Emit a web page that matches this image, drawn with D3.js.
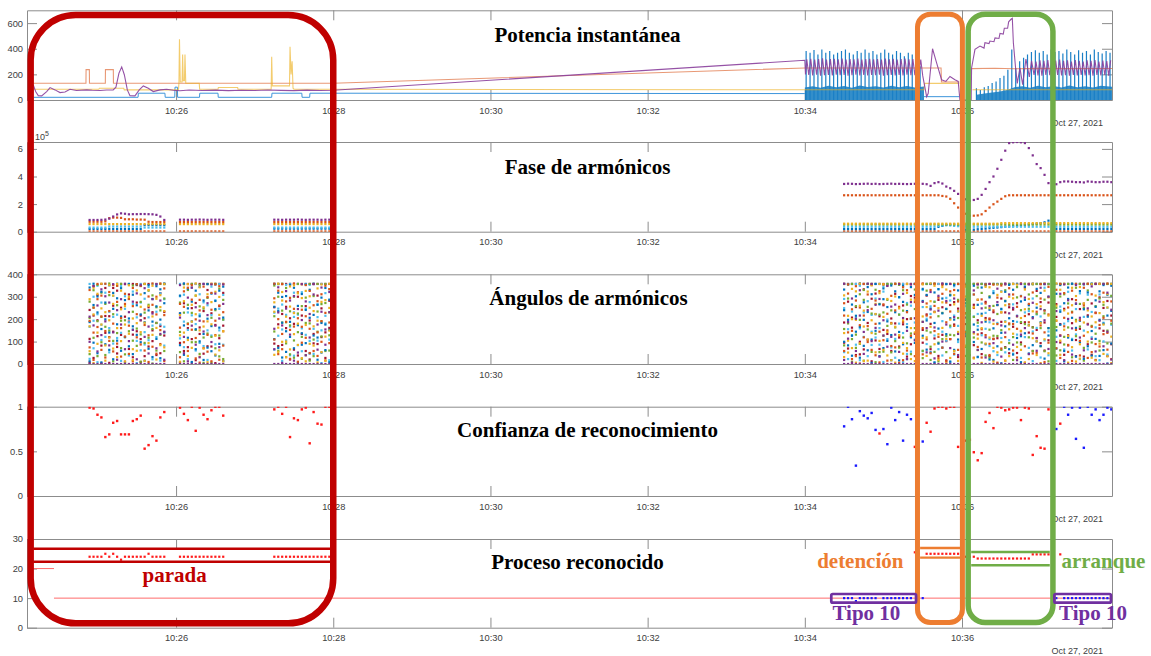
<!DOCTYPE html>
<html><head><meta charset="utf-8">
<script src="https://cdn.jsdelivr.net/npm/d3@7/dist/d3.min.js"></script>
<style>body{margin:0;background:#fff}svg{display:block}</style>
</head><body>
<svg id="c" width="1151" height="656"></svg>
<script>
// ---------------- DATA ----------------
const xTickLabels = ['10:26','10:28','10:30','10:32','10:34','10:36'];
const dateLabel = 'Oct 27, 2021';
const titles = ['Potencia instantánea','Fase de armónicos','Ángulos de armónicos','Confianza de reconocimiento','Proceso reconocido'];
const yTicksPot = [0,200,400,600];
const yTicksFase = [0,2,4,6];
const yTicksAng = [0,100,200,300,400];
const yTicksConf = [0,0.5,1];
const yTicksProc = [0,10,20,30];

// time in seconds after 10:24:00
const potBlue = [[11,21],[91,21],[91.2,53],[111.5,53],[111.7,21],[119,21],[119.2,100],[121,100],[121.2,21],[137.9,21],[138.1,53],[152,53],[152.2,21],[193,21],[193.2,53],[216,53],[216.2,21],[222,21],[222.2,53],[240,53],[600,50],[600,null],[691,26],[718,26]];
const potBlueBand = [[600,98],[606,108],[612,95],[618,112],[624,100],[630,110],[636,96],[642,114],[648,102],[654,108],[660,97],[666,112],[672,100],[678,110],[684,98],[691,105],[691,null],[731,40],[737,50],[743,58],[749,66],[755,80],[760,100],[766,108],[772,96],[778,112],[784,100],[790,110],[796,98],[802,114],[808,100],[814,108],[820,97],[826,112],[834.5,104]];
const potBlueSpikes = [[601,382],[604,368],[607,390],[610,355],[613,395],[616,368],[619,382],[622,355],[625,368],[628,382],[631,395],[634,368],[637,355],[640,382],[643,368],[646,395],[649,368],[652,382],[655,355],[658,368],[661,395],[664,368],[667,355],[670,382],[673,368],[676,342],[679,368],[682,355],[685,342],[688,263],
[731,92],[734,79],[737,100],[740,110],[743,132],[746,145],[749,171],[752,189],[755,237],[758,395],[761,250],[764,303],[767,329],[770,355],[773,374],[776,389],[779,368],[782,382],[785,355],[788,395],[791,374],[794,382],[797,363],[800,395],[803,374],[806,355],[809,389],[812,368],[815,382],[818,355],[821,395],[824,374],[827,363],[830,382],[833,368]];
const potOrange = [[11,131],[51.2,131],[51.3,237],[53.8,237],[53.9,131],[66,131],[66.1,237],[72.1,237],[72.2,131],[240,131],[600,250],[704,250],[704.3,140],[718,140],[718,null],[727.5,245],[745,248],[760,244],[780,247],[800,245],[834.5,246]];
const potYellow = [[11,84],[61,84],[61.5,92],[80,92],[80.5,79],[121.8,79],[122.2,131],[122.6,474],[123.2,140],[124.6,140],[125,355],[125.5,150],[126.4,150],[126.8,355],[127.4,131],[137.7,131],[138,84],[152,84],[152.3,97],[167,97],[167.3,84],[192.6,84],[193,337],[193.5,110],[206.6,110],[207,416],[207.8,200],[208.6,303],[209.3,92],[210,84],[240,84],[600,80],[691,80],[691.5,130],[718,130],[718,null],[728,80],[834.5,80]];
const potPurple = [[11,118],[12.8,66],[14.8,34],[17.4,32],[21.2,66],[23.8,97],[27.6,79],[31.4,58],[35.2,63],[39,84],[44,74],[51.8,79],[56,76],[61.9,74],[67,78],[72,79],[74.1,100],[76.4,210],[78.5,258],[80.5,197],[82.8,79],[84.8,34],[88.6,32],[91.9,79],[95,110],[98.8,92],[102.6,66],[107.7,79],[112.8,84],[118,76],[123,72],[130,78],[140,74],[150,77],[160,73],[170,76],[180,74],[190,78],[200,75],[210,73],[220,77],[230,74],[240,76],
[600,310],[600.5,200],[601.5,318],[603,195],[604.5,322],[606,192],[607.5,316],[609,198],[610.5,320],[612,190],[613.5,325],[615,194],[616.5,315],[618,196],[619.5,319],[621,191],[622.5,321],[624,197],[625.5,317],[627,193],[628.5,323],[630,195],[631.5,316],[633,190],[634.5,320],[636,194],[637.5,318],[639,198],[640.5,324],[642,192],[643.5,315],[645,196],[646.5,319],[648,191],[649.5,322],[651,195],[652.5,317],[654,193],[655.5,320],[657,197],[658.5,316],[660,190],[661.5,323],[663,194],[664.5,318],[666,196],[667.5,321],[669,192],[670.5,315],[672,195],[673.5,319],[675,191],[676.5,324],[678,197],[679.5,317],[681,193],[682.5,320],[684,194],[685.5,318],[687,196],[688.5,316],[690,190],
[693,26],[694.2,52],[697.5,400],[700.6,290],[704.4,158],[707.7,145],[710.8,184],[714.6,158],[717.1,145],[718.4,0],[727,0],[727.3,250],[729.9,395],[733.7,421],[736.8,405],[737.5,447],[740.6,440],[741.3,460],[744.4,455],[745.2,485],[748.2,480],[749,520],[751.5,515],[752.3,560],[754.8,560],[755.6,610],[757.4,630],[758.4,637],[759.2,447],[760.9,250],[762.2,130],[764.2,250],[766.3,120],[768.8,320],[771.4,180],[773.1,305],
[775,195],[776.5,300],[778,192],[779.5,310],[781,190],[782.5,305],[784,196],[785.5,312],[787,193],[788.5,300],[790,190],[791.5,308],[793,195],[794.5,315],[796,191],[797.5,305],[799,194],[800.5,310],[802,190],[803.5,300],[805,196],[806.5,312],[808,192],[809.5,306],[811,195],[812.5,300],[814,191],[815.5,310],[817,194],[818.5,305],[820,190],[821.5,312],[823,196],[824.5,300],[826,192],[827.5,308],[829,195],[830.5,304],[832,190],[833.5,310]];

// harmonic analysis sample times (s after 10:24:00)
const harmTimes = [54,57,60,63,66,69,72,75,78,81,84,87,90,93,96,99,102,105,108,111,
123,126,129,132,135,138,141,144,147,150,153,156,
195,198,201,204,207,210,213,216,219,222,225,228,231,234,237,
630,633,636,639,642,645,648,651,654,657,660,663,666,669,672,675,678,681,684,687,690,693,696,699,702,705,708,711,714,717,720,723,726,729,732,735,738,741,744,747,750,753,756,759,762,765,768,771,774,777,780,783,786,789,792,795,798,801,804,807,810,813,816,819,822,825,828,831,834];

// Fase de armónicos (x 10^5)
const fasePurple = [0.85,0.85,0.85,0.86,0.88,0.95,1.1,1.25,1.33,1.3,1.26,1.27,1.27,1.28,1.28,1.27,1.26,1.22,1.1,0.85,
0.87,0.87,0.86,0.87,0.87,0.88,0.87,0.86,0.87,0.87,0.87,0.86,
0.87,0.87,0.86,0.87,0.87,0.87,0.88,0.87,0.86,0.87,0.87,0.87,0.86,0.87,0.87,
3.46,3.48,3.47,3.45,3.46,3.47,3.48,3.46,3.47,3.45,3.46,3.47,3.48,3.46,3.47,3.46,3.45,3.46,3.47,3.46,3.47,3.44,
3.32,3.52,3.59,3.49,3.27,3.15,2.96,2.74,2.55,2.35,2.23,2.30,2.38,2.67,3.10,3.59,4.0,4.56,5.21,5.87,6.42,6.48,6.5,6.48,6.42,6.06,5.53,4.90,4.61,4.12,3.52,3.45,3.44,3.59,3.64,3.64,3.62,3.59,3.59,3.57,3.64,3.62,3.59,3.59,3.62,3.62,3.59];
const faseOrange = [0.72,0.72,0.72,0.72,0.75,0.98,1.02,1.02,1.0,0.9,0.9,0.9,0.88,0.88,0.87,0.72,0.7,0.7,0.7,0.7,
0.7,0.7,0.7,0.7,0.7,0.7,0.7,0.7,0.7,0.7,0.7,0.7,
0.7,0.7,0.7,0.7,0.7,0.7,0.7,0.7,0.7,0.7,0.7,0.7,0.7,0.7,0.7,
2.64,2.64,2.64,2.64,2.64,2.64,2.64,2.64,2.64,2.64,2.64,2.64,2.64,2.64,2.64,2.64,2.64,2.64,2.64,2.64,2.64,2.64,2.64,2.64,2.64,
2.59,2.55,2.38,2.06,1.75,1.45,1.3,1.16,1.16,1.18,1.26,1.5,1.75,1.99,2.18,2.38,2.57,
2.64,2.64,2.64,2.64,2.64,2.64,2.64,2.64,2.64,2.64,2.64,2.64,2.64,2.64,2.64,2.64,2.64,2.64,2.64,2.64,2.64,2.64,2.64,2.64,2.64,2.64,2.64];
const faseYellow = [0.55,0.55,0.55,0.55,0.55,0.55,0.55,0.55,0.55,0.55,0.55,0.55,0.55,0.55,0.55,0.55,0.55,0.55,0.55,0.55,
0.55,0.55,0.55,0.55,0.55,0.55,0.55,0.55,0.55,0.55,0.55,0.55,
0.55,0.55,0.55,0.55,0.55,0.55,0.55,0.55,0.55,0.55,0.55,0.55,0.55,0.55,0.55,
0.58,0.58,0.58,0.58,0.58,0.58,0.58,0.58,0.58,0.58,0.58,0.58,0.58,0.58,0.58,0.58,0.58,0.58,0.58,0.58,0.58,0.58,0.58,0.58,0.58,0.58,0.58,0.58,0.58,0.58,0.58,0.58,0.58,0.58,0.58,0.58,0.58,0.58,0.58,0.58,
0.62,0.62,0.62,0.62,0.62,0.62,0.62,0.62,0.62,0.62,0.62,0.62,0.62,0.62,0.62,0.62,0.62,0.62,0.62,0.62,0.62,0.62,0.62,0.62,0.62,0.62,0.62,0.62,0.62];
const faseGreen = [null,null,null,null,null,null,null,null,null,null,null,null,null,null,null,null,null,null,null,null,
null,null,null,null,null,null,null,null,null,null,null,null,
null,null,null,null,null,null,null,null,null,null,null,null,null,null,null,
0.52,0.52,0.52,0.52,0.52,0.52,0.52,0.52,0.52,0.52,0.52,0.52,0.52,0.52,0.52,0.52,0.52,0.52,0.52,0.52,0.52,0.52,0.52,0.52,0.52,0.52,0.52,0.52,0.52,0.52,0.52,0.52,0.52,0.52,0.52,
0.52,0.52,0.52,0.52,0.52,0.52,0.52,0.52,0.52,0.52,0.52,0.52,0.52,0.52,0.52,0.52,0.52,0.52,0.52,0.52,0.52,0.52,0.52,0.52,0.52,0.52,0.52,0.52,0.52,0.52,0.52,0.52,0.52,0.52];
const faseCyan = [0.3,0.3,0.3,0.3,0.3,0.38,0.38,0.38,0.38,0.38,0.38,0.38,0.38,0.38,0.3,0.3,0.3,0.3,0.3,0.3,
null,null,null,null,null,null,null,null,null,null,null,null,
0.3,0.3,0.3,0.3,0.3,0.3,0.3,0.3,0.3,0.3,0.3,0.3,0.3,0.3,0.3,
0.36,0.36,0.36,0.36,0.36,0.36,0.36,0.36,0.36,0.36,0.36,0.36,0.36,0.36,0.36,0.36,0.36,0.36,0.36,0.36,0.36,0.36,0.36,0.36,
0.42,0.45,0.48,0.45,0.42,0.4,
0.36,0.36,0.36,0.36,0.36,0.36,0.36,0.36,0.36,0.36,0.36,0.36,0.36,0.36,0.36,0.36,0.36,0.36,0.36,0.36,0.36,0.36,0.36,0.36,0.36,0.36,0.36,0.36,0.36,0.36,0.36,0.36,0.36,0.36,0.36,0.36,0.36,0.36,0.36];
const faseBlue = [0.2,0.2,0.2,0.2,0.2,0.2,0.2,0.2,0.2,0.2,0.2,0.2,0.2,0.2,0.48,0.48,0.48,0.48,0.48,0.48,
null,null,null,null,null,null,null,null,null,null,null,null,
0.22,0.22,0.22,0.22,0.22,0.22,0.22,0.22,0.22,0.22,0.22,0.22,0.22,0.22,0.22,
0.19,0.19,0.19,0.19,0.19,0.19,0.19,0.19,0.19,0.19,0.19,0.19,0.19,0.19,0.19,0.19,0.19,0.19,0.19,0.19,0.19,0.19,0.19,0.19,
0.35,0.42,0.48,0.5,0.52,0.45,0.2,0.15,
0.12,0.15,0.18,0.2,0.22,0.25,0.28,0.3,0.33,0.36,0.38,0.4,0.43,0.46,0.5,0.52,0.55,0.58,0.62,0.68,0.8,
0.2,0.2,0.2,0.2,0.2,0.2,0.2,0.2,0.2,0.2,0.2,0.2,0.2,0.2,0.2,0.2];
const faseBase = [0.02,0.02,0.02,0.02,0.02,0.02,0.02,0.02,0.02,0.02,0.02,0.02,0.02,0.02,0.02,0.02,0.02,0.02,0.02,0.02,
0.02,0.02,0.02,0.02,0.02,0.02,0.02,0.02,0.02,0.02,0.02,0.02,
0.02,0.02,0.02,0.02,0.02,0.02,0.02,0.02,0.02,0.02,0.02,0.02,0.02,0.02,0.02,
0.02,0.02,0.02,0.02,0.02,0.02,0.02,0.02,0.02,0.02,0.02,0.02,0.02,0.02,0.02,0.02,0.02,0.02,0.02,0.02,0.02,0.02,0.02,0.02,0.02,0.02,0.02,0.02,0.02,0.02,0.02,0.02,0.02,0.02,0.02,
0.02,0.02,0.02,0.02,0.02,0.02,0.02,0.02,0.02,0.02,0.02,0.02,0.02,0.02,0.02,0.02,0.02,0.02,0.02,0.02,0.02,0.02,0.02,0.02,0.02,0.02,0.02,0.02,0.02,0.02,0.02,0.02,0.02,0.02];

// Ángulos de armónicos (deg), 3 values per sample time
const angBlue = [12,187,341,95,263,358,230,48,301,156,322,7,274,88,199,351,140,63,21,246,317,177,293,104,338,59,212,121,285,3,
203,356,79,44,168,309,262,130,355,97,221,348,316,15,186,68,239,352,189,290,31,347,112,257,26,198,333,141,271,359,
305,84,226,172,359,41,248,117,336,9,190,278,327,66,155,213,344,101,134,283,18,356,202,73,57,169,314,281,38,245,
162,327,90,345,13,207,111,255,357,236,72,318,29,184,299,303,146,54,188,353,121,70,229,340,259,6,173,137,312,86,
354,93,241,47,206,331,219,358,127,118,264,19,296,51,183,176,339,62,8,152,287,332,240,99,83,197,355,265,126,37,
144,302,215,359,28,166,197,275,81,61,343,232,311,109,5,222,357,148,35,181,266,289,71,337,103,254,190,350,17,129,
231,324,56,16,143,298,277,88,349,164,236,22,343,119,201,94,308,357,252,40,170,126,281,335,308,194,64,52,357,247,
183,7,319,334,158,91,73,292,226,246,356,133,11,204,306,198,63,352,328,235,109,102,359,14,271,135,288,40,223,346,
349,98,176,153,264,32,224,341,67,88,189,354,297,20,242,18,316,159,263,79,357,139,246,3,322,168,280,66,353,204,
191,42,331,357,215,116,124,279,8,286,137,345,47,262,173,209,358,84,335,101,251,80,186,317,240,24,356,160,300,127,
4,227,339,313,150,69,175,352,233,58,271,12,341,118,290,107,206,358,268,33,161,193,325,97,23,244,355,319,79,211,
147,358,37,284,112,255,36,197,324,352,62,180,216,309,2,91,237,349];
const angOrange = [330,74,192,18,251,140,289,165,357,63,212,305,147,358,29,236,103,321,352,180,56,91,277,349,205,33,160,313,122,268,
45,290,171,258,12,339,119,356,222,348,87,195,174,243,60,301,128,9,77,359,264,221,46,300,359,151,89,13,218,337,
268,162,30,97,324,255,340,58,178,153,287,351,25,199,116,286,6,239,190,345,71,55,130,298,317,242,12,129,355,193,
261,19,347,82,231,146,358,109,293,200,327,44,134,66,356,31,279,188,295,152,23,167,359,246,10,204,320,242,95,166,
117,352,213,326,49,157,58,262,357,280,141,36,191,311,99,349,16,228,93,185,334,216,58,271,355,314,141,148,244,22,
283,35,347,2,173,252,357,216,119,169,98,310,246,352,63,39,283,179,325,144,7,106,266,354,224,15,150,304,183,80,
74,239,358,255,125,5,17,342,187,329,60,231,126,202,356,357,276,35,181,20,294,43,359,160,270,110,216,208,330,48,
358,147,259,121,296,26,313,73,353,12,186,274,234,324,111,170,45,330,63,279,357,290,162,18,142,354,227,337,89,197,
28,250,310,356,132,76,155,29,288,270,355,129,90,203,40,239,113,354,6,296,178,350,69,230,120,358,15,266,181,338,
178,310,60,29,255,157,302,146,359,214,5,79,357,186,268,136,47,319,50,233,115,292,356,172,9,141,238,344,221,95,
244,86,355,70,331,193,357,27,128,206,168,316,85,252,54,327,14,230,152,357,285,38,196,103,261,126,340,179,358,27,
311,53,166,89,227,358,358,174,78,133,318,206,64,359,139,279,22,193];
const angYellow = [57,289,168,221,4,340,140,313,90,358,176,248,83,231,15,195,352,118,268,69,305,31,160,357,327,244,102,176,11,258,
299,135,351,66,203,17,328,59,182,142,310,255,14,184,357,259,93,330,130,349,212,291,20,161,84,254,307,236,357,74,
10,218,128,341,140,280,107,356,36,264,72,189,359,305,222,150,33,342,69,253,167,311,190,8,177,358,276,42,126,322,
219,299,61,146,357,12,275,41,233,54,162,358,321,283,99,100,211,30,346,65,256,227,133,351,85,315,180,355,26,294,
12,174,326,251,302,90,168,82,236,337,7,193,53,355,277,285,122,14,358,250,149,138,31,306,215,104,51,71,335,200,
324,197,6,92,260,358,238,13,167,15,323,109,195,138,351,268,52,223,103,357,316,356,210,63,38,143,290,180,281,17,
301,6,166,129,359,248,46,195,94,357,71,317,160,287,22,285,13,141,9,346,218,212,116,355,119,254,36,359,166,280,
88,231,349,249,18,133,161,343,275,332,112,3,27,198,357,266,307,58,143,14,235,19,263,172,345,82,301,196,354,112,
254,136,25,113,358,287,5,215,160,197,91,344,342,249,118,72,179,11,355,52,308,231,322,97,15,188,262,300,35,155,
135,293,357,354,76,212,63,205,148,244,332,7,172,22,290,358,115,235,101,267,40,257,4,183,327,359,110,48,216,297,
292,165,14,194,359,260,41,104,331,358,239,153,125,6,225,262,340,75,11,190,303,343,88,24,185,270,357,100,142,239,
356,28,212,16,186,305,227,357,91,176,45,276,312,252,34,4,122,357];
const angPurple = [0,211,99,0,347,172,0,56,261,0,129,333,0,302,190,0,83,274,0,141,356,0,240,19,0,176,289,0,358,66,
0,102,231,0,278,152,0,21,315,0,195,353,0,338,121,0,167,47,0,225,289,0,70,356,0,283,134,0,144,19,
0,352,207,0,48,121,0,296,12,0,171,340,0,253,86,0,30,193,0,357,145,0,218,271,0,98,355,0,314,171,
0,75,203,0,268,355,0,157,66,0,342,230,0,5,172,0,247,325,0,131,283,0,303,15,0,51,245,0,196,356,
0,279,39,0,118,223,0,356,310,0,64,176,0,233,341,0,154,86,0,321,231,0,18,358,0,187,113,0,292,6,
0,58,202,0,216,329,0,143,45,0,358,240,0,102,357,0,264,161,0,33,290,0,195,127,0,348,77,0,121,256,
0,265,131,0,54,357,0,313,205,0,148,22,0,355,276,0,204,106,0,85,340,0,277,188,0,160,52,0,321,243,
0,25,163,0,238,304,0,359,100,0,176,281,0,71,357,0,292,209,0,134,40,0,356,262,0,207,124,0,40,311,
0,328,142,0,63,355,0,248,186,0,119,29,0,357,258,0,195,93,0,276,336,0,33,172,0,140,358,0,310,226,
0,86,250,0,213,17,0,357,131,0,160,296,0,44,355,0,273,204,0,116,59,0,340,245,0,195,357,0,67,300,
0,357,170,0,236,98,0,126,313,0,17,355,0,284,201,0,159,42,0,352,270,0,206,118,0,61,357,0,248,176,
0,112,346,0,357,56,0,193,278,0,79,357,0,318,144,0,242,20];
const angGreen = [278,44,205,117,329,252,353,191,35,210,97,318,40,268,166,307,149,359,103,222,12,262,349,138,71,193,357,195,120,43,
146,356,290,350,233,104,81,158,356,10,277,132,229,94,357,117,327,264,306,2,156,183,253,60,239,130,357,356,58,292,
53,274,143,229,12,356,181,330,264,357,228,97,98,152,305,353,257,45,247,118,5,136,295,357,6,206,121,358,240,70,
336,127,34,22,198,286,213,350,145,300,59,357,358,185,238,186,339,92,43,235,172,105,28,300,357,142,225,23,258,121,
183,39,296,357,181,15,303,109,35,144,234,357,267,123,190,58,357,272,230,60,128,357,156,83,292,355,181,10,111,357,
72,258,131,311,90,197,15,330,286,255,154,357,357,54,225,135,331,8,268,220,53,55,126,230,357,286,170,239,52,357,
163,357,102,353,220,73,238,118,329,92,265,357,203,44,136,332,160,245,120,295,357,26,188,59,357,327,149,141,77,18,
277,359,54,95,12,213,228,111,357,125,245,53,309,130,171,57,357,128,205,286,357,357,97,214,76,225,36,262,160,357,
118,357,210,341,184,62,96,317,357,350,38,251,153,302,28,259,357,126,125,223,2,63,151,357,282,72,329,177,357,93,
357,18,120,96,297,343,240,87,187,2,178,357,310,246,119,58,163,355,224,357,303,160,79,357,57,287,226,356,160,12,
120,211,357,251,38,165,301,357,61,87,311,121,357,163,270,30,233,357,197,124,340,268,357,167,72,15,250,328,286,357,
170,357,96,258,135,357,103,60,292,357,264,213,149,357,92,304,180,357];
const angCyan = [166,357,23,300,70,193,8,222,349,107,274,175,318,121,357,52,233,160,210,304,91,359,116,220,139,14,347,246,302,119,
358,186,38,155,323,268,208,103,4,274,357,61,87,142,291,344,208,106,21,171,357,356,120,233,176,315,15,289,82,166,
114,357,302,309,189,75,22,152,230,217,341,6,178,60,357,94,311,221,357,80,275,262,18,150,345,127,218,88,353,284,
357,246,150,198,86,308,64,229,357,126,356,247,265,14,154,353,105,219,167,357,39,37,210,318,220,84,357,159,320,57,
247,130,357,103,353,276,357,45,157,209,266,104,4,150,357,181,215,316,333,109,17,249,290,53,155,22,357,357,234,129,
205,357,86,349,159,17,121,357,230,280,35,357,85,219,144,357,118,292,160,357,86,323,9,346,198,357,111,357,180,74,
28,112,357,221,297,180,357,8,138,272,178,45,55,357,260,185,109,357,357,226,68,330,57,254,89,357,202,257,223,357,
127,278,6,357,66,333,38,191,144,357,295,104,164,8,283,347,216,42,98,357,170,228,36,320,357,146,258,14,303,167,
310,212,357,169,30,223,357,269,128,228,157,357,80,111,186,357,325,57,183,40,357,325,243,116,52,357,191,357,106,265,
266,357,46,131,188,357,357,27,304,120,357,230,236,72,357,13,292,145,357,161,221,212,357,29,357,105,340,145,39,357,
73,357,295,357,121,14,240,256,357,357,65,180,191,322,357,112,357,60,357,245,132,315,22,357,149,357,210,357,65,309,
232,119,357,35,357,163,310,357,17,101,184,357,357,42,251,175,357,303];
const angRed = [241,112,6,348,27,216,124,195,307,3,357,82,214,139,339,120,5,213,339,260,144,76,47,327,251,357,130,10,211,356,
189,67,310,30,357,131,352,274,146,111,9,216,357,204,35,253,78,357,150,231,102,40,357,183,316,169,48,357,232,127,
225,7,94,58,271,357,160,75,357,357,111,249,272,357,17,134,163,357,46,236,357,357,330,79,226,78,357,174,4,357,
115,357,258,357,317,171,253,91,357,80,357,177,357,223,85,255,357,160,357,20,204,179,357,64,300,357,38,357,134,216,
58,258,357,357,194,20,134,357,92,357,89,305,120,357,248,27,357,141,161,357,282,357,95,185,357,69,278,207,357,162,
357,254,40,43,357,99,357,65,333,108,357,183,357,291,12,314,357,105,213,67,357,357,262,152,134,357,350,58,357,203,
357,181,313,78,357,118,357,261,177,357,33,200,303,357,88,357,135,296,39,357,213,357,95,152,357,221,305,179,357,66,
357,233,114,357,286,36,130,357,253,357,102,16,263,357,111,176,357,276,357,31,247,130,357,67,357,286,178,357,13,236,
84,357,264,286,357,195,357,137,44,357,205,277,199,357,35,357,111,231,356,263,115,357,188,292,355,75,230,357,253,48,
357,166,243,357,271,49,183,357,96,341,357,186,357,140,222,164,357,58,357,326,152,93,357,276,357,60,185,357,274,106,
357,10,123,357,210,267,96,357,178,246,357,41,357,83,128,357,289,182,107,357,35,357,157,245,357,33,269,217,357,88,
357,270,41,357,18,229,159,357,297,357,250,148,36,357,281,357,88,216];

// Confianza de reconocimiento
const confianza = [0.99,0.98,0.91,0.88,0.66,0.69,0.82,0.84,0.69,0.69,0.69,0.84,0.86,0.90,0.53,0.57,0.67,0.62,0.88,0.94,
0.99,0.92,0.85,1.0,0.73,0.99,0.91,0.86,0.96,1.0,1.0,0.90,
0.97,1.0,0.92,1.0,0.66,0.87,0.85,0.97,0.99,0.59,0.94,0.81,0.80,1.0,1.0,
0.78,1.0,0.86,0.34,0.95,0.90,0.87,0.93,0.74,0.70,
0.75,0.58,0.99,0.85,0.94,0.62,0.91,0.86,0.55,0.90,
0.61,0.82,0.72,0.98,1.0,1.0,0.98,1.0,1.0,0.55,
0.60,0.62,0.63,0.49,0.40,0.48,0.83,0.93,0.76,1.0,
0.99,0.96,0.97,0.99,0.99,0.85,0.99,0.98,0.46,0.67,
0.54,0.53,0.97,0.90,0.75,0.81,1.0,0.91,0.99,0.64,
0.99,0.54,1.0,0.91,0.97,0.85,0.91,0.99,0.97];
// Proceso reconocido
const proceso = [24,24,24,24,25,24,25,24,23,24,24,24,24,24,24,25,24,24,24,24,
24,24,24,24,24,24,24,24,24,24,24,24,
24,24,24,24,24,24,24,24,24,24,24,24,24,24,24,
10,10,10,9,10,10,10,10,10,25,
10,10,10,10,10,10,10,10,25.5,25,
10,25,25,25,25,25,25,25,25,25,
25,24,24,24,23.4,23.4,23.4,23.4,23.4,23.4,
23.4,23.4,23.4,23.4,23.4,23.4,23.4,23.4,24.8,24.8,
24.8,24.8,24.8,24.8,10,24.8,10,10,10,10,
10,10,10,10,10,10,10,10,10];
const procesoLine = [[11,20],[26.8,20],[26.8,null],[26.8,10],[834.5,10]];

// ---------------- DRAWING ----------------
const svg = d3.select('#c');
const base = new Date(2021, 9, 27, 10, 24, 0);
const T = s => new Date(base.getTime() + s * 1000);
const x = d3.scaleTime().domain([T(6.2), T(834.5)]).range([27, 1112]);
const tickDates = xTickLabels.map(s => { const [h, m] = s.split(':').map(Number); return new Date(2021, 9, 27, h, m, 0); });
const AX = '#8c8c8c', TX = '#404040';
const C = {blue:'#0072BD', orange:'#D95319', yellow:'#EDB120', purple:'#7E2F8E', green:'#77AC30', cyan:'#4DBEEE', red:'#A2142F'};

const panels = [
  {top:10.3, bot:100, dom:[0,700], ticks:yTicksPot, fmt:d=>d},
  {top:142, bot:231.7, dom:[0,6.5], ticks:yTicksFase, fmt:d=>d},
  {top:274.3, bot:364, dom:[0,400], ticks:yTicksAng, fmt:d=>d},
  {top:406.7, bot:496, dom:[0,1], ticks:yTicksConf, fmt:d=>d},
  {top:539, bot:627.7, dom:[0,30], ticks:yTicksProc, fmt:d=>d}
];
const titleX = [587.5, 587.5, 588.5, 587.5, 577.5];
const titleY = [42, 174, 305, 437, 569];

function styleAxis(g){
  g.attr('font-family', null).attr('font-size', null);
  g.select('.domain').attr('stroke', AX).attr('stroke-width', 1);
  g.selectAll('.tick line').attr('stroke', AX).attr('stroke-width', 1);
  g.selectAll('.tick text').attr('fill', TX).style('font-family', '"Liberation Sans", Arial, sans-serif').style('font-size', '9.3px');
}

panels.forEach((p, i) => {
  p.y = d3.scaleLinear().domain(p.dom).range([p.bot, p.top]);
  const g = svg.append('g');
  g.append('g').attr('transform', `translate(0,${p.bot})`)
    .call(d3.axisBottom(x).tickValues(tickDates).tickFormat(d3.timeFormat('%H:%M')).tickSizeInner(-10).tickSizeOuter(0).tickPadding(7)).call(styleAxis);
  g.append('g').attr('transform', `translate(0,${p.top})`)
    .call(d3.axisTop(x).tickValues(tickDates).tickFormat(() => '').tickSizeInner(-10).tickSizeOuter(0)).call(styleAxis);
  g.append('g').attr('transform', `translate(27,0)`)
    .call(d3.axisLeft(p.y).tickValues(p.ticks).tickFormat(p.fmt).tickSizeInner(-10).tickSizeOuter(0).tickPadding(4)).call(styleAxis);
  g.append('g').attr('transform', `translate(1112,0)`)
    .call(d3.axisRight(p.y).tickValues(p.ticks).tickFormat(() => '').tickSizeInner(-10).tickSizeOuter(0)).call(styleAxis);
  g.append('text').attr('x', 1103).attr('y', p.bot + 26).attr('text-anchor', 'end')
    .attr('fill', TX).style('font-family', '"Liberation Sans", Arial, sans-serif').style('font-size', '9px').text(dateLabel);
  svg.append('clipPath').attr('id', 'clip' + i).append('rect')
    .attr('x', 27).attr('y', p.top).attr('width', 1085).attr('height', p.bot - p.top);
  p.g = svg.append('g').attr('clip-path', `url(#clip${i})`);
});

// exponent label
const ex = svg.append('text').attr('x', 35).attr('y', 140).attr('fill', TX)
  .style('font-family', '"Liberation Sans", Arial, sans-serif').style('font-size', '9px');
ex.append('tspan').text('10');
ex.append('tspan').attr('dy', -4).style('font-size', '7px').text('5');

// Panel 1: Potencia instantánea
{
  const p = panels[0], y = p.y, g = p.g;
  const line = d3.line().defined(d => d[1] !== null).x(d => x(T(d[0]))).y(d => y(d[1]));
  const area = d3.area().defined(d => d[1] !== null).x(d => x(T(d[0]))).y0(y(0)).y1(d => y(d[1]));
  g.append('path').datum(potBlueBand).attr('d', area).attr('fill', C.blue).attr('fill-opacity', 0.8);
  g.selectAll('line.spk').data(potBlueSpikes).join('line').attr('class', 'spk')
    .attr('x1', d => x(T(d[0]))).attr('x2', d => x(T(d[0])))
    .attr('y1', y(0)).attr('y2', d => y(d[1])).attr('stroke', '#1a7fc6').attr('stroke-width', 1.2);
  g.append('path').datum(potBlue).attr('d', line).attr('fill', 'none').attr('stroke', '#3d95db').attr('stroke-width', 1);
  g.append('path').datum(potOrange).attr('d', line).attr('fill', 'none').attr('stroke', C.orange).attr('stroke-opacity', 0.6).attr('stroke-width', 1.1);
  g.append('path').datum(potYellow).attr('d', line).attr('fill', 'none').attr('stroke', C.yellow).attr('stroke-opacity', 0.65).attr('stroke-width', 1.1);
  g.append('path').datum(potPurple).attr('d', line).attr('fill', 'none').attr('stroke', '#8a3f9c').attr('stroke-opacity', 0.9).attr('stroke-width', 1.1);
}

// Panel 2: Fase de armónicos
{
  const p = panels[1], y = p.y, g = p.g;
  const series = [[faseBase, C.orange], [faseBlue, C.blue], [faseCyan, C.cyan], [faseGreen, C.green], [faseYellow, C.yellow], [faseOrange, C.orange], [fasePurple, C.purple]];
  series.forEach(([vals, col]) => {
    g.append('g').selectAll('rect').data(vals.map((v, i) => [harmTimes[i], v]).filter(d => d[1] !== null && d[0] !== undefined))
      .join('rect').attr('x', d => x(T(d[0])) - 1.1).attr('y', d => y(d[1]) - 1.1)
      .attr('width', 2.2).attr('height', 2.2).attr('fill', col);
  });
}

// Panel 3: Ángulos de armónicos (dark red drawn first so the top row mixes colours)
{
  const p = panels[2], y = p.y, g = p.g;
  const series = [[angRed, C.red], [angCyan, C.cyan], [angGreen, C.green], [angBlue, C.blue], [angOrange, C.orange], [angYellow, C.yellow], [angPurple, C.purple]];
  series.forEach(([vals, col]) => {
    g.append('g').selectAll('rect').data(vals.map((v, i) => [harmTimes[Math.floor(i / 3)], v]).filter(d => d[0] !== undefined))
      .join('rect').attr('x', d => x(T(d[0])) - 1.1).attr('y', d => y(d[1]) - 1.1)
      .attr('width', 2.2).attr('height', 2.2).attr('fill', col);
  });
}

// Panel 4: Confianza
{
  const p = panels[3], y = p.y, g = p.g;
  g.selectAll('rect').data(confianza.map((v, i) => [harmTimes[i], v, proceso[i]]))
    .join('rect').attr('x', d => x(T(d[0])) - 1.2).attr('y', d => y(d[1]) - 1.2)
    .attr('width', 2.4).attr('height', 2.4).attr('fill', d => d[2] <= 10 ? '#1a1aff' : '#ff1a1a');
}

// Panel 5: Proceso reconocido
{
  const p = panels[4], y = p.y, g = p.g;
  const line = d3.line().defined(d => d[1] !== null).x(d => x(T(d[0]))).y(d => y(d[1]));
  g.append('path').datum(procesoLine).attr('d', line).attr('fill', 'none').attr('stroke', '#ff6b6b').attr('stroke-width', 1);
  g.selectAll('rect').data(proceso.map((v, i) => [harmTimes[i], v]))
    .join('rect').attr('x', d => x(T(d[0])) - 1.1).attr('y', d => y(d[1]) - 1.1)
    .attr('width', 2.2).attr('height', 2.2).attr('fill', d => d[1] <= 10 ? '#1a1aff' : '#ff1a1a');
}

// titles
titles.forEach((t, i) => {
  svg.append('text').attr('x', titleX[i]).attr('y', titleY[i]).attr('text-anchor', 'middle')
    .style('font-family', '"Liberation Serif", "Times New Roman", serif').style('font-weight', 'bold').style('font-size', '21px')
    .attr('fill', '#000').text(t);
});

// ---------------- ANNOTATIONS ----------------
const yP = panels[4].y;
const ov = svg.append('g');
const serif = '"Liberation Serif", "Times New Roman", serif';
function rrect(t0, t1, y0, y1, rx, col, w){
  ov.append('rect').attr('x', x(T(t0))).attr('y', y0).attr('width', x(T(t1)) - x(T(t0))).attr('height', y1 - y0)
    .attr('rx', rx).attr('fill', 'none').attr('stroke', col).attr('stroke-width', w);
}
function hline(t0, t1, v, col, w){
  ov.append('line').attr('x1', x(T(t0))).attr('x2', x(T(t1))).attr('y1', yP(v)).attr('y2', yP(v)).attr('stroke', col).attr('stroke-width', w);
}
function label(txt, cx, by, col){
  ov.append('text').attr('x', cx).attr('y', by).attr('text-anchor', 'middle').attr('fill', col)
    .style('font-family', serif).style('font-weight', 'bold').style('font-size', '21px').text(txt);
}
// parada (red)
rrect(9.0, 240, 15, 623.3, 45, '#c00000', 6.5);
hline(11, 238, 26.7, '#c00000', 2.7);
hline(11, 238, 22.3, '#c00000', 2.7);
label('parada', 174.7, 582, '#c00000');
// detención (orange)
rrect(686.0, 720.3, 14.2, 622.5, 13, '#ed7d31', 5);
hline(688, 718.5, 26.95, '#ed7d31', 2.4);
hline(688, 718.5, 23.7, '#ed7d31', 2.4);
label('detención', 860.3, 568.3, '#ed7d31');
// arranque (green)
rrect(724.7, 789.4, 14.2, 622.5, 17, '#70ad47', 5.5);
hline(727, 787, 25.6, '#70ad47', 2.4);
hline(727, 787, 21.1, '#70ad47', 2.4);
label('arranque', 1103.4, 568.3, '#70ad47');
// Tipo 10 (purple)
ov.append('rect').attr('x', x(T(620.2))).attr('y', yP(11.4)).attr('width', x(T(684.9)) - x(T(620.2))).attr('height', yP(8.45) - yP(11.4))
  .attr('rx', 1.5).attr('fill', 'none').attr('stroke', '#7030a0').attr('stroke-width', 2.7);
ov.append('rect').attr('x', x(T(790.5))).attr('y', yP(11.4)).attr('width', x(T(833.7)) - x(T(790.5))).attr('height', yP(8.45) - yP(11.4))
  .attr('rx', 1.5).attr('fill', 'none').attr('stroke', '#7030a0').attr('stroke-width', 2.7);
label('Tipo 10', 866.4, 620, '#7030a0');
label('Tipo 10', 1093, 620, '#7030a0');
</script>
</body></html>
